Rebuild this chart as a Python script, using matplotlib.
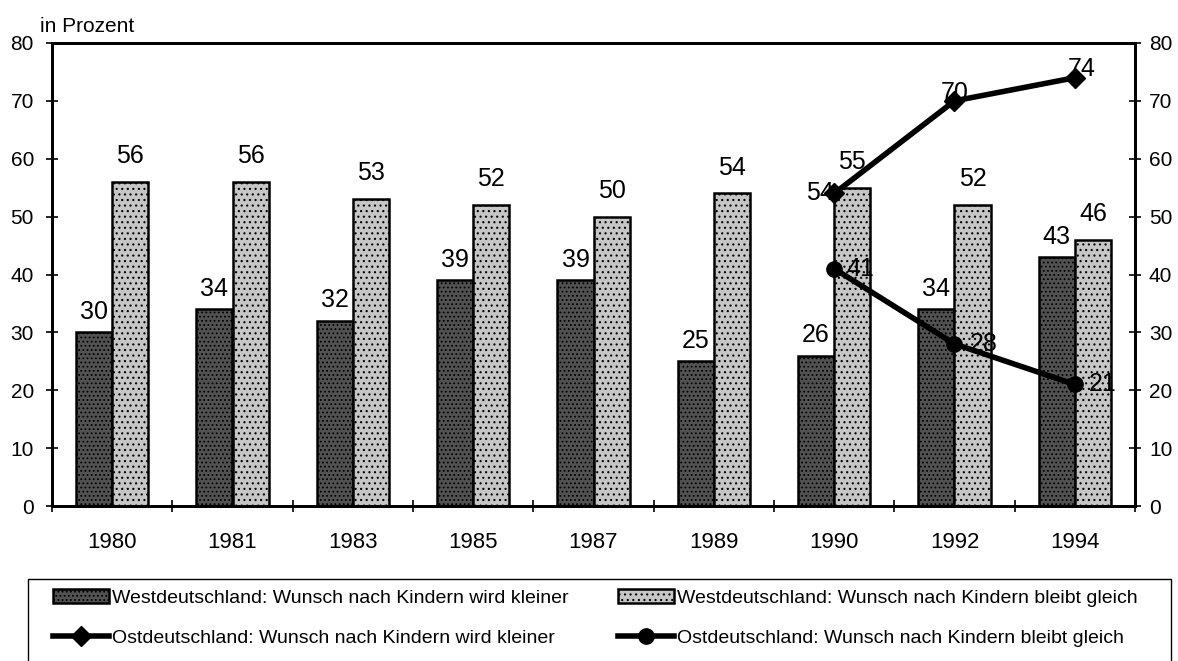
import numpy as np
import matplotlib
matplotlib.use('Agg')
import matplotlib.pyplot as plt
from matplotlib.patches import Rectangle

plt.rcParams['font.family'] = ['Liberation Sans', 'DejaVu Sans']
plt.rcParams['hatch.linewidth'] = 0.8

# data
years = ['1980', '1981', '1983', '1985', '1987', '1989', '1990', '1992', '1994']
west_kleiner = [30, 34, 32, 39, 39, 25, 26, 34, 43]
west_gleich = [56, 56, 53, 52, 50, 54, 55, 52, 46]
ost_years = ['1990', '1992', '1994']
ost_kleiner = [54, 70, 74]
ost_gleich = [41, 28, 21]

lab_wk = 'Westdeutschland: Wunsch nach Kindern wird kleiner'
lab_wg = 'Westdeutschland: Wunsch nach Kindern bleibt gleich'
lab_ok = 'Ostdeutschland: Wunsch nach Kindern wird kleiner'
lab_og = 'Ostdeutschland: Wunsch nach Kindern bleibt gleich'

W, H = 1178, 661
fig = plt.figure(figsize=(W/100, H/100), dpi=100)
ax = fig.add_axes([52/W, 1-506/H, (1135-52)/W, (506-43)/H])

x = np.arange(len(years))
bw = 0.3
b1 = ax.bar(x-bw/2, west_kleiner, bw, facecolor='#525252', edgecolor='black',
            linewidth=1.8, hatch='....', label=lab_wk, zorder=2)
b2 = ax.bar(x+bw/2, west_gleich, bw, facecolor='#c6c6c6', edgecolor='black',
            linewidth=1.8, hatch='...', label=lab_wg, zorder=2)

for xi, v in zip(x, west_kleiner):
    ax.annotate(str(v), (xi-bw/2, v), xytext=(0, 6), textcoords='offset points',
                ha='center', va='bottom', fontsize=18)
for xi, v in zip(x, west_gleich):
    ax.annotate(str(v), (xi+bw/2, v), xytext=(0, 10), textcoords='offset points',
                ha='center', va='bottom', fontsize=18)

ox = [years.index(y) for y in ost_years]
l1, = ax.plot(ox, ost_kleiner, color='black', lw=4, marker='D', markersize=10,
              label=lab_ok, zorder=4)
l2, = ax.plot(ox, ost_gleich, color='black', lw=4, marker='o', markersize=11,
              label=lab_og, zorder=4)

# label offsets (points) for the line values
off_k = [(-10, 0), (0, 6), (5, 6)]
off_g = [(19, 0), (21, 0), (20, 0)]
for xi, v, o in zip(ox, ost_kleiner, off_k):
    ax.annotate(str(v), (xi, v), xytext=o, textcoords='offset points',
                ha='center', va='center', fontsize=18, zorder=5)
for xi, v, o in zip(ox, ost_gleich, off_g):
    ax.annotate(str(v), (xi, v), xytext=o, textcoords='offset points',
                ha='center', va='center', fontsize=18, zorder=5)

ax.set_xlim(-0.5, len(years)-0.5)
ax.set_ylim(0, 80)
ax.set_yticks(range(0, 81, 10))
ax.set_xticks(x)
ax.set_xticklabels(years, fontsize=16)
ax.set_xticks(np.arange(len(years)+1)-0.5, minor=True)
ax.tick_params(axis='x', which='major', length=0, pad=19)
ax.tick_params(axis='x', which='minor', direction='inout', length=8, width=1.2)
ax.tick_params(axis='y', direction='inout', length=8, width=1.2, labelsize=15, pad=9)

ax2 = ax.twinx()
ax2.set_ylim(0, 80)
ax2.set_yticks(range(0, 81, 10))
ax2.tick_params(axis='y', direction='inout', length=8, width=1.2, labelsize=15, pad=6)

for a in (ax, ax2):
    for s in a.spines.values():
        s.set_linewidth(2)

fig.text(40/W, 1-26/H, 'in Prozent', fontsize=15, va='center', ha='left')

# legend with a box that runs off the bottom
fig.legend([b1, l1, b2, l2], [lab_wk, lab_ok, lab_wg, lab_og], ncol=2,
           loc='upper left', bbox_to_anchor=(53/W, 1-589/H), frameon=False,
           fontsize=14, handlelength=2.9, handletextpad=0.15, columnspacing=2.5,
           labelspacing=1.15, borderpad=0, borderaxespad=0)
fig.patches.append(Rectangle((28/W, -0.1), (1171-28)/W, 0.1+(661-579)/H,
                             transform=fig.transFigure, fill=False,
                             edgecolor='black', lw=1))

fig.savefig('out.png', dpi=100)
